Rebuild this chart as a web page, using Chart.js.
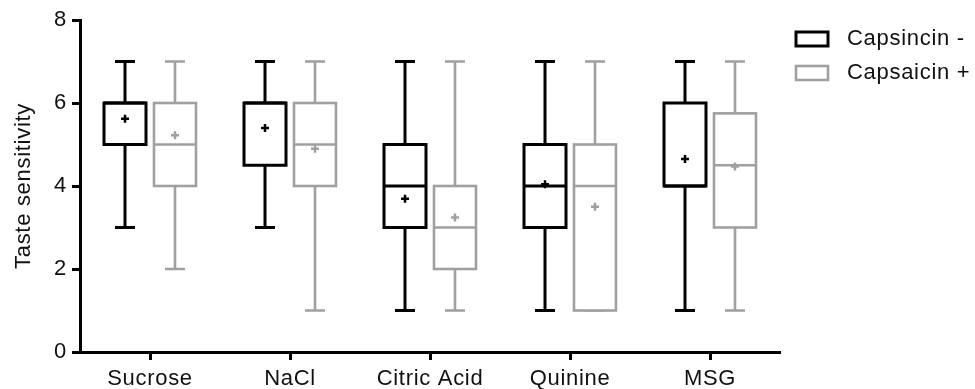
<!DOCTYPE html>
<html>
<head>
<meta charset="utf-8">
<script src="https://cdn.jsdelivr.net/npm/chart.js@4.4.0/dist/chart.umd.min.js"></script>
<style>
  html, body { margin: 0; background: #fff; }
  #wrap { width: 975px; height: 389px; }
</style>
</head>
<body>
<div id="wrap"><canvas id="boxChart"></canvas></div>
<script>
/* ---- data ---- */
const tastes = ["Sucrose", "NaCl", "Citric Acid", "Quinine", "MSG"];
const groups = ["Capsincin -", "Capsaicin +"];
const yTicks = [0, 2, 4, 6, 8];

// Capsaicin - (black boxes)
const minNeg  = [3, 3, 1, 1, 1];
const q1Neg   = [5, 4.5, 3, 3, 4];
const medNeg  = [6, 6, 4, 4, 4];
const q3Neg   = [6, 6, 5, 5, 6];
const maxNeg  = [7, 7, 7, 7, 7];
const meanNeg = [5.62, 5.4, 3.69, 4.04, 4.65];

// Capsaicin + (grey boxes)
const minPos  = [2, 1, 1, 1, 1];
const q1Pos   = [4, 4, 2, 1, 3];
const medPos  = [5, 5, 3, 4, 4.5];
const q3Pos   = [6, 6, 4, 5, 5.75];
const maxPos  = [7, 7, 7, 7, 7];
const meanPos = [5.22, 4.9, 3.24, 3.5, 4.47];

const FONT = "'Liberation Sans', Arial, sans-serif";
const BLACK = "#000000";
const GREY = "#a0a0a0";

/* ---- box & whisker drawing on top of the floating bars ---- */
const boxPlot = {
  id: "boxPlot",
  beforeDraw(chart) {
    chart.ctx.letterSpacing = "0.7px";
  },
  afterDatasetsDraw(chart) {
    const ctx = chart.ctx;
    const y = chart.scales.y;
    chart.data.datasets.forEach((ds, di) => {
      const meta = chart.getDatasetMeta(di);
      const s = ds.stats;
      meta.data.forEach((bar, i) => {
        const cx = bar.x, w = bar.width;
        const yMin = y.getPixelForValue(s.min[i]);
        const yQ1 = y.getPixelForValue(s.q1[i]);
        const yMed = y.getPixelForValue(s.med[i]);
        const yQ3 = y.getPixelForValue(s.q3[i]);
        const yMax = y.getPixelForValue(s.max[i]);
        const yMean = y.getPixelForValue(s.mean[i]);
        ctx.save();
        ctx.strokeStyle = ds.lineColor;
        ctx.lineWidth = ds.lineW;
        ctx.lineJoin = "miter";
        ctx.lineCap = "butt";
        ctx.beginPath();
        // whiskers
        ctx.moveTo(cx, yQ3); ctx.lineTo(cx, yMax);
        ctx.moveTo(cx, yQ1); ctx.lineTo(cx, yMin);
        // caps
        ctx.moveTo(cx - 10, yMax); ctx.lineTo(cx + 10, yMax);
        ctx.moveTo(cx - 10, yMin); ctx.lineTo(cx + 10, yMin);
        ctx.stroke();
        // box
        ctx.fillStyle = "#fff";
        ctx.fillRect(cx - w / 2, yQ3, w, yQ1 - yQ3);
        ctx.strokeRect(cx - w / 2, yQ3, w, yQ1 - yQ3);
        // median
        ctx.beginPath();
        ctx.moveTo(cx - w / 2, yMed); ctx.lineTo(cx + w / 2, yMed);
        ctx.stroke();
        // mean "+"
        ctx.lineWidth = 2.5;
        ctx.beginPath();
        ctx.moveTo(cx - 4, yMean); ctx.lineTo(cx + 4, yMean);
        ctx.moveTo(cx, yMean - 4); ctx.lineTo(cx, yMean + 4);
        ctx.stroke();
        ctx.restore();
      });
    });
  },
  afterDraw(chart) {
    // legend to the right of the plot
    const ctx = chart.ctx;
    const x0 = chart.chartArea.right + 16;
    ctx.save();
    ctx.font = "22px " + FONT;
    ctx.textBaseline = "middle";
    ctx.fillStyle = "#111";
    chart.data.datasets.forEach((ds, di) => {
      const cy = 39 + di * 34;
      ctx.strokeStyle = ds.lineColor;
      ctx.lineWidth = ds.lineW;
      ctx.strokeRect(x0, cy - 7, 32, 14);
      ctx.fillText(ds.label, x0 + 51, cy);
    });
    ctx.restore();
  }
};

const makeSet = (label, color, lw, min, q1, med, q3, max, mean) => ({
  label,
  data: q1.map((v, i) => [v, q3[i]]),
  backgroundColor: "rgba(0,0,0,0)",
  borderWidth: 0,
  lineColor: color,
  lineW: lw,
  stats: { min, q1, med, q3, max, mean }
});

new Chart(document.getElementById("boxChart"), {
  type: "bar",
  data: {
    labels: tastes,
    datasets: [
      makeSet(groups[0], BLACK, 3, minNeg, q1Neg, medNeg, q3Neg, maxNeg, meanNeg),
      makeSet(groups[1], GREY, 2.6, minPos, q1Pos, medPos, q3Pos, maxPos, meanPos)
    ]
  },
  plugins: [boxPlot],
  options: {
    responsive: true,
    maintainAspectRatio: false,
    animation: false,
    categoryPercentage: 0.714,
    barPercentage: 0.84,
    layout: { padding: { top: 20, right: 195, left: 0, bottom: 0 } },
    plugins: { legend: { display: false }, tooltip: { enabled: false } },
    scales: {
      x: {
        grid: { offset: false, drawOnChartArea: false, tickLength: 8, tickWidth: 3, tickColor: BLACK },
        border: { color: BLACK, width: 3 },
        ticks: { color: "#111", padding: 6, font: { family: FONT, size: 22 } },
        afterFit(scale) { scale.height = 37; }
      },
      y: {
        min: 0,
        max: 8,
        afterBuildTicks(scale) { scale.ticks = yTicks.map(v => ({ value: v })); },
        grid: { drawOnChartArea: false, tickLength: 8, tickWidth: 3, tickColor: BLACK },
        border: { color: BLACK, width: 3 },
        ticks: { color: "#111", padding: 5, font: { family: FONT, size: 22 } },
        title: {
          display: true,
          text: "Taste sensitivity",
          color: "#111",
          padding: { top: 11, bottom: 0 },
          font: { family: FONT, size: 22 }
        },
        afterFit(scale) { scale.width = 80; }
      }
    }
  }
});
</script>
</body>
</html>
